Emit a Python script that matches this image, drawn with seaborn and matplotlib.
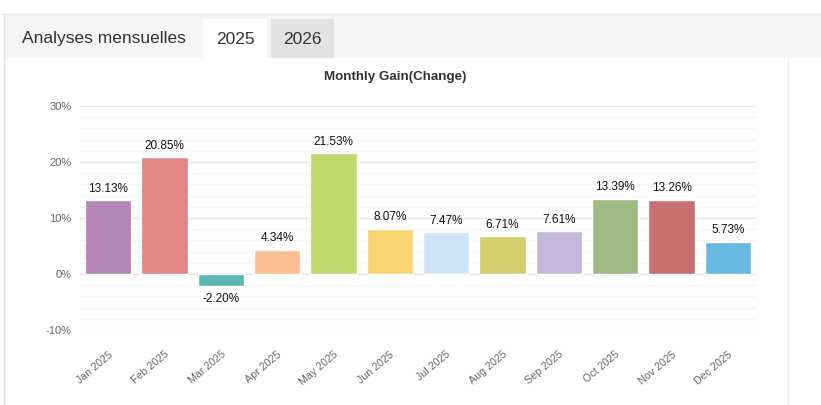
import numpy as np
import pandas as pd
import matplotlib
matplotlib.use("Agg")
import matplotlib.pyplot as plt
from matplotlib.patches import Rectangle
from matplotlib.lines import Line2D
import seaborn as sns

# ---------------------------- DATA ---------------------------------

MONTHS = ["Jan 2025", "Feb 2025", "Mar 2025", "Apr 2025", "May 2025", "Jun 2025",
          "Jul 2025", "Aug 2025", "Sep 2025", "Oct 2025", "Nov 2025", "Dec 2025"]
GAIN = [13.13, 20.85, -2.20, 4.34, 21.53, 8.07, 7.47, 6.71, 7.61, 13.39, 13.26, 5.73]
COLORS = ["#b384b4", "#e08784", "#5bb5b0", "#fbbd94", "#bfd96e", "#f9d572",
          "#cfe5f7", "#d4ce6e", "#c6b7d8", "#9fba85", "#c86f72", "#68bae2"]
Y_TICKS = [-10, 0, 10, 20, 30]
TABS = ["2025", "2026"]

W, H = 821, 405


def px(x, y):
    """pixel coords (top-left origin) -> figure fraction"""
    return x / W, 1 - y / H


def main():
    sns.set_theme(style="white")
    plt.rcParams["font.family"] = ["Liberation Sans", "DejaVu Sans"]

    fig = plt.figure(figsize=(W / 100, H / 100), dpi=100)
    fig.patch.set_facecolor("white")

    # header band + tabs
    def rect(x0, y0, x1, y1, color, **kw):
        fx0, fy1 = px(x0, y0)
        fx1, fy0 = px(x1, y1)
        fig.add_artist(Rectangle((fx0, fy0), fx1 - fx0, fy1 - fy0,
                                 transform=fig.transFigure, facecolor=color,
                                 edgecolor="none", **kw))

    def line(x0, y0, x1, y1, color="#e3e3e3", lw=1):
        a, b = px(x0, y0)
        c, d = px(x1, y1)
        fig.add_artist(Line2D([a, c], [b, d], transform=fig.transFigure,
                              color=color, lw=lw))

    rect(4, 14, W, 58, "#f5f5f5")
    rect(203, 19, 267, 58, "white")
    rect(271, 19, 334, 58, "#e2e2e2")
    line(3, 13.5, W, 13.5)
    line(3.5, 13, 3.5, H)
    line(788, 58, 788, H, color="#ececec")

    fig.text(*px(22, 38), "Analyses mensuelles", fontsize=12.5, color="#333333",
             ha="left", va="center")
    fig.text(*px(235, 39), TABS[0], fontsize=12.5, color="#333333",
             ha="center", va="center")
    fig.text(*px(302.5, 39), TABS[1], fontsize=12.5, color="#333333",
             ha="center", va="center")

    # chart
    left, top = px(80, 106)
    right, bottom = px(756, 330)
    ax = fig.add_axes([left, bottom, right - left, top - bottom])

    df = pd.DataFrame({"month": MONTHS, "gain": GAIN})
    sns.barplot(data=df, x="month", y="gain", hue="month", palette=COLORS,
                legend=False, width=0.82, saturation=1, ax=ax, zorder=3)

    ax.set_xlim(-0.5, len(MONTHS) - 0.5)
    ax.set_ylim(-10, 30)
    ax.set_yticks(Y_TICKS)
    ax.set_yticklabels([f"{t}%" for t in Y_TICKS])
    ax.set_yticks(np.arange(-10, 31, 2), minor=True)
    ax.grid(axis="y", which="minor", color="#f4f4f4", lw=0.8, zorder=0)
    ax.grid(axis="y", which="major", color="#e6e6e6", lw=1.0, zorder=0)
    ax.tick_params(axis="y", which="both", length=0, labelsize=8,
                   labelcolor="#666666", pad=6)
    ax.tick_params(axis="x", length=0, labelsize=7.7, labelcolor="#666666", pad=14)
    for lbl in ax.get_xticklabels():
        lbl.set_rotation(40)
        lbl.set_ha("right")
        lbl.set_rotation_mode("anchor")
    ax.set_xlabel("")
    ax.set_ylabel("")
    for s in ax.spines.values():
        s.set_visible(False)
    ax.set_facecolor("none")

    for i, v in enumerate(GAIN):
        if v >= 0:
            ax.annotate(f"{v:.2f}%", (i, v), xytext=(0, 4), textcoords="offset points",
                        ha="center", va="bottom", fontsize=8.5, color="#111111")
        else:
            ax.annotate(f"{v:.2f}%", (i, v), xytext=(0, -5), textcoords="offset points",
                        ha="center", va="top", fontsize=8.5, color="#111111")

    fig.text(*px(395, 77), "Monthly Gain(Change)", fontsize=9.6, fontweight="bold",
             color="#333333", ha="center", va="center")

    fig.savefig("out.png", dpi=100)


if __name__ == "__main__":
    main()
